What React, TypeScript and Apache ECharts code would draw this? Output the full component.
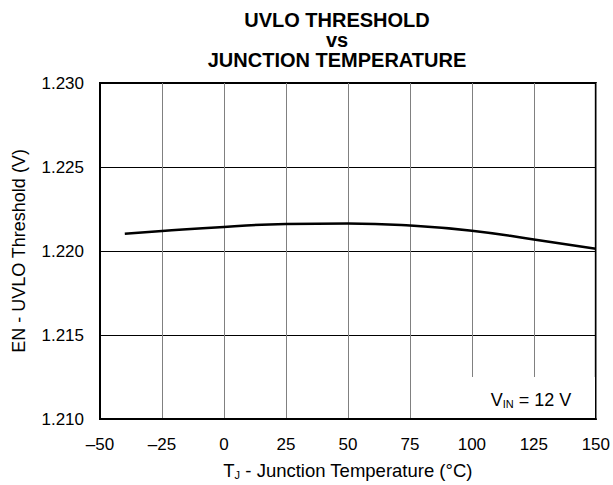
import React, { useEffect, useRef } from "react";
import * as echarts from "echarts";

const temperatures = [-40, -25, 0, 25, 50, 75, 100, 125, 150];
const thresholds = [1.22103, 1.22119, 1.22143, 1.22161, 1.22164, 1.22152, 1.22121, 1.22069, 1.22014];
const xTicks = { min: -50, max: 150, interval: 25 };
const yTicks = { min: 1.21, max: 1.23, interval: 0.005 };
const titleLines = ["UVLO THRESHOLD", "vs", "JUNCTION TEMPERATURE"];

const FONT = "'Liberation Sans', Arial, sans-serif";

export default function App() {
  const ref = useRef<HTMLDivElement>(null);
  useEffect(() => {
    if (!ref.current) return;
    const chart = echarts.init(ref.current, undefined, { renderer: "svg" });
    chart.setOption({
      animation: false,
      backgroundColor: "#fff",
      textStyle: { fontFamily: FONT, color: "#000" },
      title: titleLines.map((t, i) => ({
        text: t,
        left: 337,
        top: 10 + i * 20,
        textAlign: "center",
        padding: 0,
        textStyle: { fontFamily: FONT, fontSize: 20, fontWeight: "bold", color: "#000", lineHeight: 20 },
      })),
      grid: {
        left: 100,
        right: 16,
        top: 83,
        bottom: 65,
        show: true,
        borderColor: "#000",
        borderWidth: 2,
        backgroundColor: "transparent",
      },
      xAxis: {
        type: "value",
        min: xTicks.min,
        max: xTicks.max,
        interval: xTicks.interval,
        axisLine: { show: true, onZero: false, lineStyle: { color: "#000", width: 2 } },
        axisTick: { show: false },
        axisLabel: {
          margin: 17,
          fontSize: 17,
          fontFamily: FONT,
          color: "#000",
          formatter: (v: number) => (v < 0 ? "\u2013" + Math.abs(v) : String(v)),
        },
        splitLine: { show: true, lineStyle: { color: "#808080", width: 1 } },
        name: "T{sub|J} - Junction Temperature (°C)",
        nameLocation: "middle",
        nameGap: 42,
        nameTextStyle: {
          fontSize: 18.5,
          fontFamily: FONT,
          color: "#000",
          rich: { sub: { fontSize: 11, fontFamily: FONT, color: "#000", padding: [8, 0, 0, 0] } },
        },
      },
      yAxis: {
        type: "value",
        min: yTicks.min,
        max: yTicks.max,
        interval: yTicks.interval,
        axisLine: { show: true, onZero: false, lineStyle: { color: "#000", width: 2 } },
        axisTick: { show: false },
        axisLabel: {
          margin: 16,
          fontSize: 17,
          fontFamily: FONT,
          color: "#000",
          formatter: (v: number) => v.toFixed(3),
        },
        splitLine: { show: true, lineStyle: { color: "#000", width: 1 } },
        name: "EN - UVLO Threshold (V)",
        nameLocation: "middle",
        nameGap: 72,
        nameTextStyle: { fontSize: 18, fontFamily: FONT, color: "#000" },
      },
      graphic: [
        {
          type: "rect",
          z: 1,
          shape: { x: 464, y: 377, width: 131, height: 41 },
          style: { fill: "#fff" },
        },
        {
          type: "text",
          z: 2,
          x: 531,
          y: 400,
          style: {
            text: "V{sub|IN} = 12 V",
            fontSize: 18,
            fontFamily: FONT,
            fill: "#000",
            align: "center",
            verticalAlign: "middle",
            rich: { sub: { fontSize: 11, fontFamily: FONT, fill: "#000", padding: [8, 0, 0, 0] } },
          },
        },
      ],
      series: [
        {
          type: "line",
          data: temperatures.map((t, i) => [t, thresholds[i]]),
          smooth: true,
          showSymbol: false,
          lineStyle: { color: "#000", width: 2.5 },
          z: 3,
        },
      ],
    });
    return () => chart.dispose();
  }, []);
  return <div ref={ref} style={{ width: 613, height: 485, position: "absolute", left: 0, top: 0 }} />;
}
